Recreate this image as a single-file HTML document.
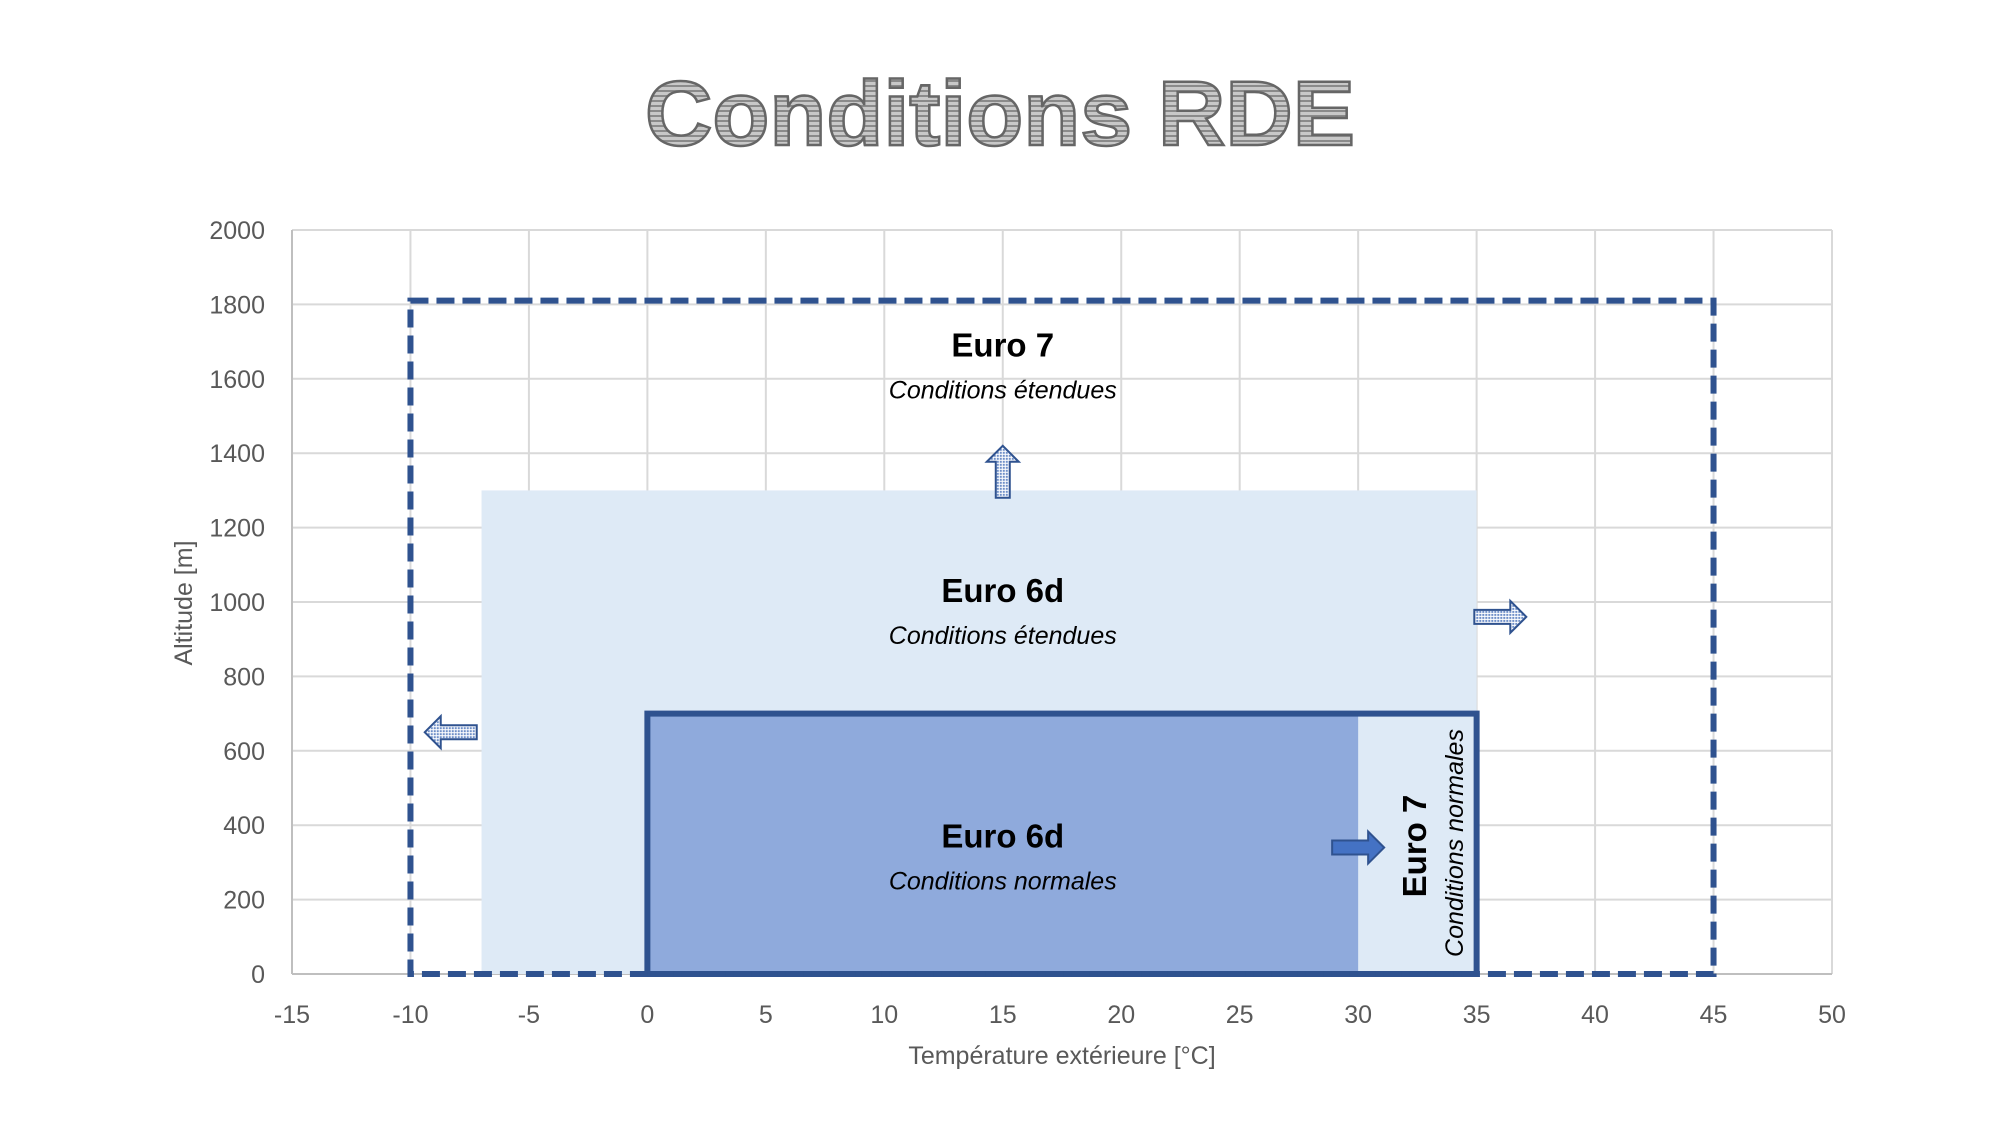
<!DOCTYPE html>
<html><head><meta charset="utf-8"><style>
html,body{margin:0;padding:0;background:#fff;}
svg text{font-family:"Liberation Sans",sans-serif;}
</style></head><body>
<svg id="chart" width="2000" height="1125" viewBox="0 0 2000 1125" xmlns="http://www.w3.org/2000/svg">
<defs>
<pattern id="stripes" width="6" height="5" patternUnits="userSpaceOnUse">
<rect width="6" height="5" fill="#c8c8c8"/><rect width="6" height="2" fill="#8a8a8a"/></pattern>
<pattern id="dots" width="3" height="3" patternUnits="userSpaceOnUse">
<rect width="3" height="3" fill="#ffffff"/><rect width="2" height="2" fill="#6f8fc8"/></pattern>
</defs>
<text x="1000" y="145" text-anchor="middle" font-size="92" font-weight="bold" fill="url(#stripes)" stroke="#666" stroke-width="2.5" textLength="710" lengthAdjust="spacingAndGlyphs">Conditions RDE</text>
<g id="grid"></g>
<g id="marks"></g>
<g id="ticks"></g>
<text x="1062" y="1064" text-anchor="middle" font-size="25" fill="#595959">Température extérieure [°C]</text>
<text transform="translate(192,603) rotate(-90)" text-anchor="middle" font-size="25" fill="#595959">Altitude [m]</text>
</svg>
<script>
const xTicks = [-15,-10,-5,0,5,10,15,20,25,30,35,40,45,50];
const yTicks = [0,200,400,600,800,1000,1200,1400,1600,1800,2000];
const euro7Ext = [-10,45,0,1810];
const euro6dExt = [-7,35,0,1300];
const euro6dNorm = [0,30,0,700];
const euro7Norm = [0,35,0,700];
const labels = [
  {t:"Euro 7", s:"Conditions étendues", x:15, y:1820-160},
  {t:"Euro 6d", s:"Conditions étendues", x:15, y:1000},
  {t:"Euro 6d", s:"Conditions normales", x:15, y:340}
];
const X0=292, X1=1832, Y0=974, Y1=230;
const sx = v => X0 + (v - (-15)) / 65 * (X1 - X0);
const sy = v => Y0 - v / 2000 * (Y0 - Y1);
const NS="http://www.w3.org/2000/svg";
function mk(parent, tag, attrs){const e=document.createElementNS(NS,tag);for(const k in attrs)e.setAttribute(k,attrs[k]);parent.appendChild(e);return e;}
const grid=document.getElementById('grid'), marks=document.getElementById('marks'), ticks=document.getElementById('ticks');
xTicks.forEach(v=>{
  const l=mk(grid,'line',{x1:sx(v),x2:sx(v),y1:Y1,y2:Y0,stroke:'#d9d9d9','stroke-width':2});
  
  
  const t=mk(ticks,'text',{x:sx(v),y:1023,'text-anchor':'middle','font-size':25,fill:'#595959'});
  t.textContent=v;
  
  
});
yTicks.forEach(v=>{
  const l=mk(grid,'line',{x1:X0,x2:X1,y1:sy(v),y2:sy(v),stroke:'#d9d9d9','stroke-width':2});
  
  
  const t=mk(ticks,'text',{x:265,y:sy(v)+9,'text-anchor':'end','font-size':25,fill:'#595959'});
  t.textContent=v;
  
  
});
const ax=mk(grid,'line',{x1:X0,x2:X0,y1:Y1,y2:Y0,stroke:'#bfbfbf','stroke-width':2});


const bx=mk(grid,'line',{x1:X0,x2:X1,y1:Y0,y2:Y0,stroke:'#bfbfbf','stroke-width':2});


function rect(r,attrs){return mk(marks,'rect',Object.assign({x:sx(r[0]),y:sy(r[3]),width:sx(r[1])-sx(r[0]),height:sy(r[2])-sy(r[3])},attrs));}
const a=rect(euro6dExt,{fill:'#deeaf6'});


const b=rect(euro7Norm,{fill:'#deeaf6'});


const c=rect(euro6dNorm,{fill:'#8faadc'});


const d=rect(euro7Norm,{fill:'none',stroke:'#2f528f','stroke-width':6});


const e=rect(euro7Ext,{fill:'none',stroke:'#2f528f','stroke-width':6,'stroke-dasharray':'18 8'});


// arrows
function arrow(cx,cy,dir,fill,name){
  const g=mk(marks,'g',{transform:`translate(${cx},${cy}) rotate(${dir})`});
  
  
  mk(g,'path',{d:'M-26,-7 L10,-7 L10,-16 L26,0 L10,16 L10,7 L-26,7 Z',fill:fill,stroke:'#2f528f','stroke-width':2});
}
arrow(sx(15),sy(1350),-90,'url(#dots)','arrow-up');
arrow(sx(36),sy(960),0,'url(#dots)','arrow-right');
arrow(sx(-8.3),sy(650),180,'url(#dots)','arrow-left');
arrow(sx(30),sy(340),0,'#4472c4','arrow-right-solid');
labels.forEach(L=>{
  const t=mk(marks,'text',{x:sx(L.x),y:sy(L.y),'text-anchor':'middle','font-size':33,'font-weight':'bold',fill:'#000'});
  t.textContent=L.t;
  
  
  const s=mk(marks,'text',{x:sx(L.x),y:sy(L.y)+42,'text-anchor':'middle','font-size':25,'font-style':'italic',fill:'#000'});
  s.textContent=L.s;
  
  
});
const v1=mk(marks,'text',{transform:`translate(1426,846) rotate(-90)`,'text-anchor':'middle','font-size':33,'font-weight':'bold',fill:'#000'});
v1.textContent='Euro 7';


const v2=mk(marks,'text',{transform:`translate(1463,843) rotate(-90)`,'text-anchor':'middle','font-size':25,'font-style':'italic',fill:'#000'});
v2.textContent='Conditions normales';


</script>
</body></html>
